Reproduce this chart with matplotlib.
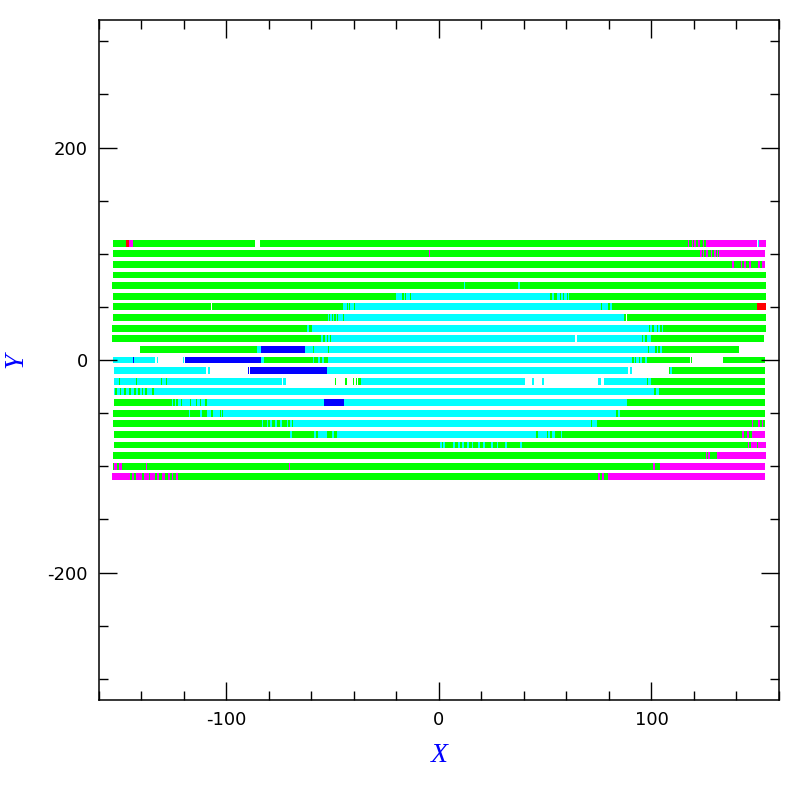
import matplotlib
matplotlib.use("Agg")
import matplotlib.pyplot as plt
from matplotlib.ticker import MultipleLocator

plt.rcParams['axes.unicode_minus'] = False

# colour codes used in the strips
colors = {'g': '#00ff00', 'c': '#00ffff', 'b': '#0000ff',
          'm': '#ff00ff', 'r': '#ff0000'}

# each row: (x_start, x_end, colour); later entries are drawn on top
row_p110 = [(-153.4, -86.8, 'g'), (-84.3, 126.8, 'g'),
            (-147.3, -145.9, 'r'), (-145.9, -144.0, 'm'),
            (117.0, 117.6, 'm'), (118.9, 119.5, 'm'), (120.2, 120.8, 'm'),
            (122.1, 122.9, 'm'), (124.3, 124.9, 'm'), (125.8, 126.4, 'm'),
            (126.8, 149.7, 'm'), (150.0, 150.6, 'c'), (150.8, 153.9, 'm')]
row_p100 = [(-153.4, 131.8, 'g'), (-4.6, -4.1, 'm'),
            (123.0, 123.6, 'm'), (124.3, 124.9, 'm'), (125.8, 126.5, 'm'),
            (127.9, 128.3, 'm'), (129.3, 130.2, 'm'), (130.8, 131.5, 'm'),
            (131.8, 153.4, 'm')]
row_p90 = [(-153.4, 150.3, 'g'),
           (138.1, 138.7, 'm'), (142.1, 142.8, 'm'), (143.7, 144.3, 'm'),
           (145.9, 146.8, 'm'), (150.3, 153.4, 'm'), (151.1, 151.9, 'g')]
row_p80 = [(-153.4, 153.9, 'g')]
row_p70 = [(-153.9, 153.9, 'g'), (11.8, 12.4, 'c'), (37.4, 38.0, 'c')]
row_p60 = [(-153.4, -20.2, 'g'), (-20.2, 62.1, 'c'),
           (-17.4, -16.6, 'g'), (-16.0, -15.3, 'g'), (-13.6, -13.1, 'g'),
           (52.3, 53.0, 'g'), (54.3, 55.4, 'g'), (57.0, 57.4, 'g'),
           (58.5, 59.0, 'g'), (60.1, 60.6, 'g'), (61.4, 153.9, 'g')]
row_p50 = [(-153.4, -107.3, 'g'), (-106.8, -45.3, 'g'), (-45.3, 82.1, 'c'),
           (-43.9, -43.6, 'g'), (-43.2, -42.6, 'g'), (-42.3, -41.8, 'g'),
           (-40.1, -39.5, 'g'), (76.3, 76.9, 'g'), (79.7, 80.5, 'g'),
           (81.3, 149.7, 'g'), (149.7, 153.9, 'r')]
row_p40 = [(-153.4, -52.3, 'g'), (-52.3, 87.1, 'c'),
           (-51.7, -51.1, 'g'), (-50.5, -49.8, 'g'), (-49.2, -48.6, 'g'),
           (-48.0, -47.6, 'g'), (-45.3, -44.7, 'g'),
           (87.1, 87.9, 'g'), (88.3, 153.9, 'g')]
row_p30 = [(-153.9, -62.3, 'g'), (-62.3, -61.2, 'c'), (-61.2, -59.6, 'g'),
           (-59.6, 105.6, 'c'),
           (98.8, 99.5, 'g'), (100.4, 101.4, 'g'), (102.6, 103.2, 'g'),
           (104.0, 104.8, 'g'), (105.6, 153.9, 'g')]
row_p20 = [(-153.9, -55.6, 'g'), (-55.6, -54.5, 'c'), (-54.5, -53.7, 'g'),
           (-53.7, 64.0, 'c'), (-52.8, -52.2, 'g'), (-51.2, -50.9, 'g'),
           (64.9, 99.8, 'c'), (95.4, 96.2, 'g'), (96.9, 97.7, 'g'),
           (99.8, 153.0, 'g')]
row_p10 = [(-140.7, -85.7, 'g'), (-85.7, -83.8, 'c'), (-83.8, -63.1, 'b'),
           (-63.1, 101.7, 'c'), (-59.2, -58.7, 'g'), (-52.3, -51.7, 'g'),
           (98.3, 98.8, 'g'), (101.7, 141.2, 'g'),
           (102.5, 103.2, 'c'), (104.0, 104.8, 'c')]
row_0 = [(-153.4, -133.7, 'c'), (-143.9, -143.4, 'b'),
         (-132.6, -132.1, 'c'), (-120.5, -119.9, 'c'),
         (-119.6, -83.8, 'b'), (-83.8, -82.4, 'c'), (-82.4, -59.2, 'g'),
         (-59.2, 97.7, 'c'),
         (-58.7, -56.8, 'g'), (-56.0, -55.2, 'g'), (-54.1, -52.1, 'g'),
         (91.0, 91.6, 'g'), (92.3, 92.9, 'g'), (94.1, 94.8, 'g'), (95.7, 97.0, 'g'),
         (97.7, 118.3, 'g'), (118.6, 119.1, 'g'), (133.8, 153.4, 'g')]
row_m10 = [(-153.0, -109.7, 'c'), (-108.7, -107.8, 'c'),
           (-89.8, -89.3, 'b'), (-89.0, -52.9, 'b'),
           (-52.9, 88.8, 'c'), (89.9, 91.0, 'c'),
           (108.3, 153.4, 'g'), (108.9, 109.5, 'c')]
row_m20 = [(-153.0, -74.1, 'c'),
           (-150.6, -150.1, 'g'), (-142.6, -142.1, 'g'), (-130.8, -130.2, 'g'),
           (-128.6, -128.0, 'g'), (-73.3, -72.0, 'c'),
           (-48.9, -48.4, 'g'), (-44.2, -43.2, 'g'), (-40.4, -39.8, 'g'),
           (-39.2, -38.5, 'g'), (-37.9, -36.7, 'g'),
           (-36.7, 40.5, 'c'), (43.6, 44.9, 'c'), (48.4, 49.6, 'c'),
           (75.0, 76.3, 'c'), (77.5, 99.8, 'c'), (97.7, 98.5, 'g'),
           (99.8, 153.4, 'g')]
row_m30 = [(-153.0, 103.5, 'c'),
           (-152.5, -151.7, 'g'), (-150.3, -149.7, 'g'), (-148.1, -147.5, 'g'),
           (-145.7, -145.0, 'g'), (-143.4, -142.8, 'g'), (-141.5, -140.9, 'g'),
           (-139.6, -139.2, 'g'), (-138.4, -137.6, 'g'), (-135.2, -134.0, 'g'),
           (101.4, 102.0, 'g'), (103.5, 153.4, 'g')]
row_m40 = [(-153.0, -125.8, 'g'), (-125.8, -54.1, 'c'),
           (-125.0, -124.3, 'g'), (-123.7, -122.7, 'g'), (-121.4, -120.8, 'g'),
           (-117.2, -116.7, 'g'), (-114.4, -113.9, 'g'), (-112.5, -112.1, 'g'),
           (-110.1, -109.3, 'g'),
           (-54.1, -44.7, 'b'), (-44.7, 88.3, 'c'), (88.3, 153.4, 'g')]
row_m50 = [(-153.4, -101.7, 'g'),
           (-117.7, -117.0, 'c'), (-112.5, -111.7, 'c'), (-109.3, -107.3, 'c'),
           (-106.2, -103.1, 'c'), (-102.6, -102.3, 'c'),
           (-101.7, 85.0, 'c'), (83.3, 84.1, 'g'), (85.0, 153.4, 'g')]
row_m60 = [(-153.4, -84.3, 'g'), (-84.3, 74.2, 'c'),
           (-84.3, -83.5, 'g'), (-82.7, -81.1, 'g'), (-80.3, -79.6, 'g'),
           (-78.8, -77.2, 'g'), (-76.4, -74.8, 'g'), (-74.1, -71.7, 'g'),
           (-70.9, -70.1, 'g'), (-69.4, -68.6, 'g'),
           (71.6, 72.2, 'g'), (74.2, 153.4, 'g'),
           (147.2, 148.0, 'm'), (150.0, 151.1, 'm'), (151.9, 152.7, 'm')]
row_m70 = [(-153.0, -52.9, 'g'),
           (-77.4, -77.0, 'c'), (-70.1, -69.4, 'c'), (-58.7, -58.1, 'c'),
           (-56.8, -52.9, 'c'), (-52.9, 57.7, 'c'),
           (-52.9, -52.1, 'g'), (-52.0, -50.5, 'g'), (-49.2, -48.0, 'g'),
           (45.5, 46.5, 'g'), (50.7, 51.5, 'g'), (52.3, 53.0, 'g'),
           (54.6, 55.9, 'g'), (56.2, 57.4, 'g'), (57.7, 153.4, 'g'),
           (142.4, 143.7, 'm'), (144.8, 145.9, 'm'), (147.5, 153.4, 'm')]
row_m80 = [(-153.0, 153.9, 'g'),
           (0.5, 1.3, 'c'), (2.1, 2.9, 'c'), (6.8, 7.6, 'c'), (8.8, 9.9, 'c'),
           (11.0, 12.0, 'c'), (13.1, 14.2, 'c'), (15.4, 16.2, 'c'),
           (18.2, 19.3, 'c'), (20.9, 21.7, 'c'), (24.5, 25.3, 'c'),
           (27.2, 28.0, 'c'), (31.1, 31.9, 'c'), (38.2, 39.0, 'c'),
           (145.3, 145.9, 'm'), (146.8, 149.5, 'm'), (150.3, 153.9, 'm')]
row_m90 = [(-153.4, 153.9, 'g'), (125.5, 126.1, 'm'), (126.8, 127.4, 'm'),
           (130.7, 153.9, 'm')]
row_m100 = [(-153.4, 153.4, 'g'),
            (-152.8, -151.7, 'm'), (-150.6, -149.4, 'm'), (-138.1, -137.6, 'm'),
            (-70.6, -70.1, 'm'), (100.9, 101.7, 'm'), (104.0, 153.4, 'm'),
            (104.8, 105.1, 'g')]
row_m110 = [(-153.9, -122.7, 'm'),
            (-145.4, -144.6, 'g'), (-143.4, -142.8, 'g'), (-139.6, -138.7, 'g'),
            (-136.5, -135.9, 'g'), (-133.7, -132.9, 'g'), (-131.8, -130.5, 'g'),
            (-129.0, -127.7, 'g'), (-126.6, -125.8, 'g'), (-125.0, -123.9, 'g'),
            (-122.7, 79.7, 'g'), (75.0, 75.8, 'm'), (76.9, 77.8, 'm'),
            (79.7, 153.4, 'm')]

row_y = [110, 100, 90, 80, 70, 60, 50, 40, 30, 20, 10, 0,
         -10, -20, -30, -40, -50, -60, -70, -80, -90, -100, -110]
rows = [row_p110, row_p100, row_p90, row_p80, row_p70, row_p60, row_p50,
        row_p40, row_p30, row_p20, row_p10, row_0, row_m10, row_m20, row_m30,
        row_m40, row_m50, row_m60, row_m70, row_m80, row_m90, row_m100, row_m110]

strip_h = 6.4

fig = plt.figure(figsize=(7.97, 7.97), dpi=100)
ax = fig.add_axes([0.1242, 0.1217, 0.8532, 0.8532])

for y, segs in zip(row_y, rows):
    for x0, x1, c in segs:
        ax.broken_barh([(x0, x1 - x0)], (y - strip_h / 2, strip_h),
                       facecolors=colors[c], linewidth=0, antialiased=False)

ax.set_xlim(-160, 160)
ax.set_ylim(-320, 320)

ax.xaxis.set_major_locator(MultipleLocator(100))
ax.xaxis.set_minor_locator(MultipleLocator(20))
ax.yaxis.set_major_locator(MultipleLocator(200))
ax.yaxis.set_minor_locator(MultipleLocator(50))
ax.tick_params(which='both', direction='in', top=True, right=True,
               width=1.0, labelsize=13, colors='black')
ax.tick_params(which='major', length=13, pad=8)
ax.tick_params(which='minor', length=6.5)
for sp in ax.spines.values():
    sp.set_linewidth(1.1)

ax.set_xlabel('X', fontsize=20, color='blue', family='Liberation Serif',
              style='italic', labelpad=10)
ax.set_ylabel('Y', fontsize=20, color='blue', family='Liberation Serif',
              style='italic', labelpad=14)

fig.savefig('out.png', dpi=100)
